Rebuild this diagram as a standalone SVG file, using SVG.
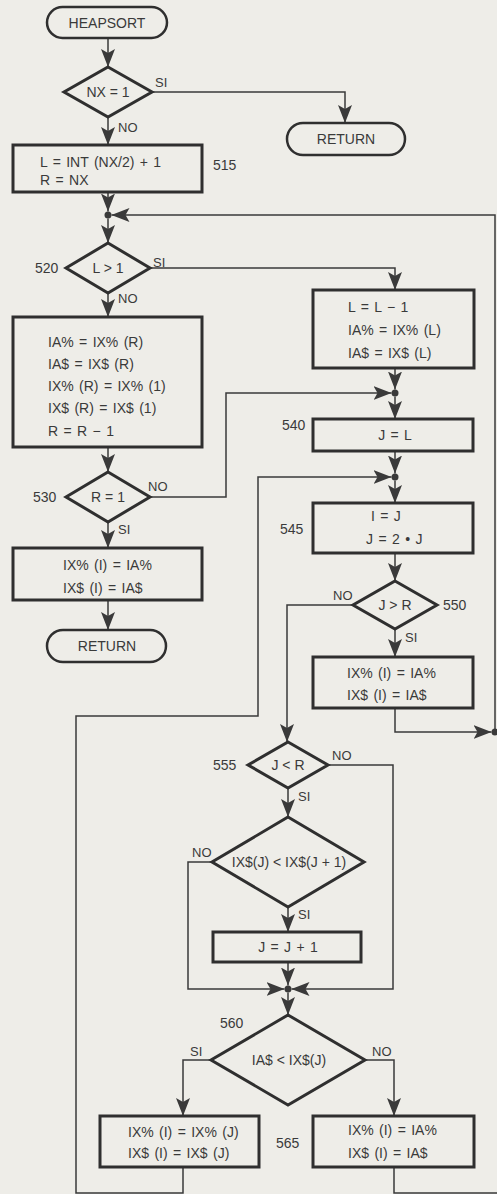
<svg xmlns="http://www.w3.org/2000/svg" width="497" height="1194" viewBox="0 0 497 1194">
<style>
.bg{fill:#eeede8}
.box{fill:none;stroke:#2f2f2f;stroke-width:3}
.term{fill:none;stroke:#2f2f2f;stroke-width:2.5}
.con{fill:none;stroke:#3a3a3a;stroke-width:1.5}
.arr{fill:none;stroke:#3a3a3a;stroke-width:1.5;marker-end:url(#ah)}
.dot{fill:#3a3a3a}
text{font-family:"Liberation Sans",Arial,sans-serif;font-size:14px;fill:#3a3a3a}
.t{word-spacing:1.5px}
.c{text-anchor:middle}
.lbl{font-size:13px}
</style>
<defs>
<marker id="ah" markerUnits="userSpaceOnUse" viewBox="0 0 18 14" refX="18" refY="7" markerWidth="18" markerHeight="14" orient="auto">
<path d="M0,0 L18,7 L0,14 L4,7 Z" fill="#3a3a3a"/>
</marker>
</defs>
<rect class="bg" x="0" y="0" width="497" height="1194"/>

<g id="connectors">
<path class="arr" d="M108,38 V67"/>
<path class="arr" d="M152,92 H345 V123"/>
<path class="arr" d="M108,117 V145"/>
<path class="arr" d="M108,192 V211.5"/>
<path class="arr" d="M108,218.5 V243"/>
<path class="arr" d="M495,732 V215 H111.5"/>
<path class="arr" d="M150,268 H395 V290"/>
<path class="arr" d="M108,293 V317"/>
<path class="arr" d="M108,447 V472"/>
<path class="arr" d="M150,497 H226 V393 H391.5"/>
<path class="arr" d="M108,522 V548"/>
<path class="arr" d="M108,600 V630"/>
<path class="arr" d="M395,368 V389.5"/>
<path class="arr" d="M395,396.5 V419"/>
<path class="arr" d="M395,451 V473.5"/>
<path class="arr" d="M395,480.5 V503"/>
<path class="arr" d="M183,1167 V1193 H76 V716 H258 V477 H391.5"/>
<path class="arr" d="M395,553 V581"/>
<path class="arr" d="M353,605 H287 V742"/>
<path class="arr" d="M395,629 V657"/>
<path class="arr" d="M395,708 V732 H491.5"/>
<path class="arr" d="M328,765 H393 V989 H291.5"/>
<path class="arr" d="M288,788 V817"/>
<path class="arr" d="M212,862 H188 V989 H284.5"/>
<path class="arr" d="M288,907 V932"/>
<path class="arr" d="M288,962 V985.5"/>
<path class="arr" d="M288,992.5 V1015"/>
<path class="arr" d="M211,1060 H183 V1116"/>
<path class="arr" d="M365,1060 H394 V1116"/>
<path class="con" d="M394,1167 V1193 H497"/>
<text class="lbl" x="155" y="87">SI</text>
<text class="lbl" x="118" y="132">NO</text>
<text class="lbl" x="153" y="267">SI</text>
<text class="lbl" x="118" y="303">NO</text>
<text class="lbl" x="148" y="491">NO</text>
<text class="lbl" x="118" y="534">SI</text>
<text class="lbl" x="333" y="600">NO</text>
<text class="lbl" x="405" y="642">SI</text>
<text class="lbl" x="332" y="760">NO</text>
<text class="lbl" x="298" y="801">SI</text>
<text class="lbl" x="192" y="857">NO</text>
<text class="lbl" x="298" y="919">SI</text>
<text class="lbl" x="190" y="1056">SI</text>
<text class="lbl" x="372" y="1056">NO</text>
</g>

<g id="heapsort"><rect class="term" x="47" y="7" width="120" height="31" rx="15.5"/><text class="c" x="107" y="28">HEAPSORT</text></g>
<g id="d_nx1"><polygon class="box" points="108,67 152,92 108,117 64,92"/><text class="c" x="108" y="97">NX = 1</text></g>
<g id="return1"><rect class="term" x="287" y="123" width="118" height="32" rx="16"/><text class="c" x="346" y="144">RETURN</text></g>
<g id="n515"><rect class="box" x="13" y="145" width="189" height="47"/><text class="t" x="40" y="167">L = INT (NX/2) + 1</text><text class="t" x="40" y="185">R = NX</text><text x="213" y="170">515</text></g>
<g id="j1"><circle class="dot" cx="108" cy="215" r="3.5"/></g>
<g id="d520"><polygon class="box" points="108,243 150,268 108,293 66,268"/><text class="c" x="108" y="273">L &gt; 1</text><text x="35" y="273">520</text></g>
<g id="swap"><rect class="box" x="13" y="317" width="189" height="130"/>
<text class="t" x="48" y="347">IA% = IX% (R)</text>
<text class="t" x="48" y="369">IA$ = IX$ (R)</text>
<text class="t" x="48" y="391">IX% (R) = IX% (1)</text>
<text class="t" x="48" y="413">IX$ (R) = IX$ (1)</text>
<text class="t" x="48" y="436">R = R − 1</text></g>
<g id="d530"><polygon class="box" points="108,472 150,497 108,522 66,497"/><text class="c" x="108" y="502">R = 1</text><text x="33" y="502">530</text></g>
<g id="final"><rect class="box" x="13" y="548" width="189" height="52"/><text class="t" x="63" y="570">IX% (I) = IA%</text><text class="t" x="63" y="593">IX$ (I) = IA$</text></g>
<g id="return2"><rect class="term" x="47" y="630" width="119" height="32" rx="16"/><text class="c" x="107" y="651">RETURN</text></g>
<g id="ldec"><rect class="box" x="313" y="290" width="161" height="78"/>
<text class="t" x="348" y="312">L = L − 1</text>
<text class="t" x="348" y="335">IA% = IX% (L)</text>
<text class="t" x="348" y="358">IA$ = IX$ (L)</text></g>
<g id="j2"><circle class="dot" cx="395" cy="393" r="3.5"/></g>
<g id="n540"><rect class="box" x="313" y="419" width="160" height="32"/><text class="c t" x="395" y="440">J = L</text><text x="282" y="430">540</text></g>
<g id="j3"><circle class="dot" cx="395" cy="477" r="3.5"/></g>
<g id="n545"><rect class="box" x="313" y="503" width="160" height="50"/><text class="t" x="371" y="521">I = J</text><text class="t" x="366" y="544">J = 2 • J</text><text x="280" y="534">545</text></g>
<g id="d550"><polygon class="box" points="395,581 437,605 395,629 353,605"/><text class="c" x="395" y="610">J &gt; R</text><text x="443" y="610">550</text></g>
<g id="store"><rect class="box" x="313" y="657" width="160" height="51"/><text class="t" x="347" y="678">IX% (I) = IA%</text><text class="t" x="347" y="700">IX$ (I) = IA$</text></g>
<g id="j4"><circle class="dot" cx="495" cy="732" r="3.5"/></g>
<g id="d555"><polygon class="box" points="288,742 328,765 288,788 248,765"/><text class="c" x="288" y="770">J &lt; R</text><text x="213" y="770">555</text></g>
<g id="dcmp"><polygon class="box" points="288,817 364,862 288,907 212,862"/><text class="c" x="289" y="867">IX$(J) &lt; IX$(J + 1)</text></g>
<g id="inc"><rect class="box" x="213" y="932" width="148" height="30"/><text class="c t" x="288" y="952">J = J + 1</text></g>
<g id="j5"><circle class="dot" cx="288" cy="989" r="3.5"/></g>
<g id="d560"><polygon class="box" points="288,1015 365,1060 288,1105 211,1060"/><text class="c" x="289" y="1065">IA$ &lt; IX$(J)</text><text x="220" y="1028">560</text></g>
<g id="n565a"><rect class="box" x="100" y="1116" width="159" height="51"/><text class="t" x="128" y="1137">IX% (I) = IX% (J)</text><text class="t" x="128" y="1158">IX$ (I) = IX$ (J)</text><text x="276" y="1148">565</text></g>
<g id="n565b"><rect class="box" x="313" y="1116" width="161" height="51"/><text class="t" x="348" y="1135">IX% (I) = IA%</text><text class="t" x="348" y="1158">IX$ (I) = IA$</text></g>
</svg>
